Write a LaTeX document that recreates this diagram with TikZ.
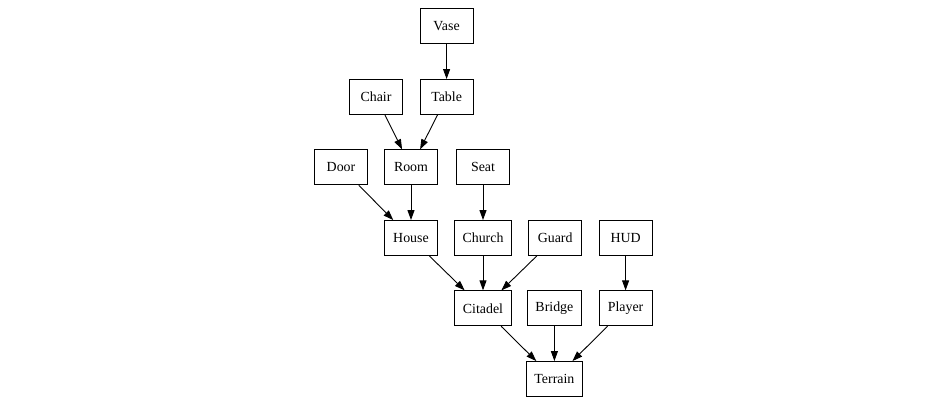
\documentclass[tikz,border=0pt]{standalone}
\usepackage{fontspec}
\setmainfont{Liberation Serif}
\usetikzlibrary{arrows.meta}
\begin{document}
\begin{tikzpicture}[x=1pt,y=-1pt,
  box/.style={draw,line width=0.9pt,minimum width=53pt,minimum height=35pt,inner xsep=8pt,inner ysep=0pt,font=\fontsize{13.9}{16}\selectfont},
  edge/.style={draw,line width=0.9pt,-{Triangle[length=10pt,width=7pt]}}]
\useasboundingbox (0,0) rectangle (950,400);
\node[box] (vase) at (446.6,26.3) {Vase};
\node[box] (chair) at (376,97) {Chair};
\node[box] (table) at (446.6,97) {Table};
\node[box] (door) at (341,167.3) {Door};
\node[box] (room) at (411,167.3) {Room};
\node[box] (seat) at (483,167.3) {Seat};
\node[box] (house) at (411,238) {House};
\node[box] (church) at (483,238) {Church};
\node[box] (guard) at (555.2,238) {Guard};
\node[box] (hud) at (625.6,238) {HUD};
\node[box] (citadel) at (483,308.3) {Citadel};
\node[box] (bridge) at (554.4,308.3) {Bridge};
\node[box] (player) at (625.6,308.3) {Player};
\node[box] (terrain) at (554.4,379) {Terrain};
\draw[edge] (vase) -- (table);
\draw[edge] (chair) -- (room);
\draw[edge] (table) -- (room);
\draw[edge] (door) -- (house);
\draw[edge] (room) -- (house);
\draw[edge] (seat) -- (church);
\draw[edge] (house) -- (citadel);
\draw[edge] (church) -- (citadel);
\draw[edge] (guard) -- (citadel);
\draw[edge] (hud) -- (player);
\draw[edge] (citadel) -- (terrain);
\draw[edge] (bridge) -- (terrain);
\draw[edge] (player) -- (terrain);
\end{tikzpicture}
\end{document}
